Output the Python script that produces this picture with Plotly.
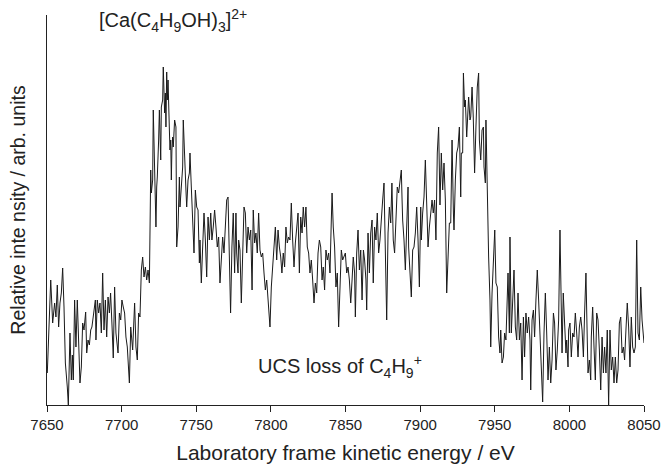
import plotly.graph_objects as go

# Laboratory-frame kinetic energy (eV) and relative intensity (arb. units)
energy_1 = [7650.2, 7652.5, 7653.8, 7655.1, 7656.0, 7656.9, 7657.8, 7658.7, 7659.6, 7660.5,
            7661.4, 7662.3, 7663.6, 7664.3, 7665.4, 7666.3, 7667.0, 7667.6, 7668.5, 7669.4,
            7670.3, 7671.2, 7672.1, 7673.0, 7673.9, 7674.8, 7675.9, 7676.6, 7677.5, 7678.4,
            7679.3, 7680.1, 7681.5, 7682.4, 7682.8, 7683.7, 7684.6, 7685.5, 7686.4, 7687.3,
            7688.2, 7689.1, 7690.0, 7690.9, 7691.8, 7692.6, 7693.5, 7694.4, 7695.3, 7696.2,
            7697.6, 7698.5, 7699.4, 7700.2, 7701.1, 7702.0, 7702.9, 7703.8, 7705.2, 7706.1,
            7707.4, 7708.7, 7709.6, 7710.5, 7711.4]
intensity_1 = [32, 125, 82, 102, 88, 120, 78, 102, 112, 137,
               98, 42, 18, 0, 72, 25, 50, 25, 105, 58,
               105, 72, 22, 38, 82, 75, 93, 52, 65, 60,
               75, 78, 92, 105, 65, 105, 92, 102, 72, 132,
               75, 105, 68, 108, 92, 112, 82, 47, 118, 72,
               52, 92, 85, 105, 98, 92, 68, 58, 22, 78,
               55, 102, 58, 45, 92]

energy_2 = [7712.3, 7713.2, 7714.1, 7715.0, 7715.9, 7716.8, 7717.7, 7718.6, 7719.5, 7719.9,
            7720.8, 7721.2, 7722.1, 7723.0, 7723.5, 7723.9, 7724.8, 7725.3, 7726.2, 7726.6,
            7727.5, 7727.9, 7728.8, 7729.3, 7729.7, 7730.2, 7730.6, 7731.1, 7732.0, 7732.4,
            7732.9, 7733.3, 7733.7, 7734.2, 7734.6, 7735.5, 7736.4, 7736.9, 7737.8, 7738.7,
            7739.1, 7740.0, 7740.9, 7741.3, 7742.2, 7743.1, 7743.6, 7744.5, 7745.4, 7745.8,
            7746.7, 7747.6, 7748.5, 7749.4, 7750.3, 7751.2, 7752.1, 7752.5, 7753.4, 7754.3,
            7755.2, 7756.1, 7757.0, 7757.9, 7758.8, 7759.7, 7760.5, 7761.4, 7762.3, 7763.2,
            7764.1, 7765.0, 7765.9, 7766.8, 7767.7, 7768.6, 7769.5, 7770.4, 7771.3, 7772.2,
            7772.6, 7773.0, 7773.9, 7774.8, 7775.7, 7776.6, 7777.1, 7778.0, 7778.4]
intensity_2 = [88, 135, 148, 128, 138, 125, 135, 122, 235, 212,
               225, 295, 218, 178, 218, 228, 265, 295, 245, 298,
               305, 338, 292, 312, 278, 333, 305, 325, 275, 255,
               265, 225, 255, 268, 258, 285, 278, 158, 178, 228,
               198, 222, 238, 285, 238, 215, 198, 225, 232, 252,
               218, 178, 152, 215, 198, 195, 142, 165, 122, 158,
               192, 165, 128, 188, 165, 192, 165, 178, 195, 178,
               158, 168, 122, 145, 168, 152, 178, 205, 208, 132,
               102, 92, 158, 192, 132, 192, 152, 132, 165]

energy_3 = [7779.3, 7780.2, 7781.1, 7782.0, 7782.9, 7783.8, 7784.7, 7785.6, 7786.5, 7787.4,
            7788.2, 7789.1, 7790.0, 7790.9, 7791.8, 7792.7, 7793.6, 7794.5, 7795.4, 7796.3,
            7797.2, 7798.1, 7799.0, 7799.4, 7800.3, 7801.2, 7802.1, 7803.0, 7803.9, 7804.8,
            7805.7, 7806.6, 7807.4, 7808.3, 7809.2, 7810.1, 7811.0, 7811.9, 7812.8, 7813.7,
            7814.6, 7815.5, 7816.4, 7817.3, 7818.2, 7819.1, 7820.0, 7820.9, 7821.7, 7822.6,
            7823.5, 7824.4, 7825.3, 7826.2, 7827.1, 7828.0, 7828.9, 7829.8, 7830.7, 7831.6,
            7832.5, 7833.4, 7834.3, 7835.1, 7836.0, 7836.9, 7837.8, 7838.7, 7839.6, 7840.5,
            7841.0, 7841.8, 7842.7, 7843.6, 7844.5, 7845.4]
intensity_3 = [155, 102, 158, 198, 192, 152, 178, 165, 175, 115,
               195, 162, 172, 152, 192, 155, 148, 152, 132, 115,
               125, 105, 95, 78, 118, 138, 168, 178, 145, 175,
               158, 148, 132, 152, 138, 178, 162, 168, 165, 202,
               165, 138, 162, 178, 192, 132, 188, 172, 198, 178,
               198, 158, 152, 132, 145, 125, 102, 122, 112, 152,
               165, 158, 125, 138, 115, 155, 145, 152, 132, 185,
               212, 178, 158, 118, 132, 78]

energy_4 = [7847.2, 7848.1, 7849.0, 7849.9, 7850.8, 7851.7, 7852.6, 7853.5, 7854.4, 7855.2,
            7856.1, 7856.6, 7857.5, 7858.4, 7859.3, 7860.2, 7861.1, 7862.0, 7862.8, 7863.7,
            7864.2, 7865.1, 7866.0, 7866.9, 7867.8, 7868.6, 7869.5, 7870.4, 7871.3, 7872.2,
            7873.1, 7874.0, 7874.9, 7875.8, 7876.2, 7877.1, 7877.6, 7878.5, 7879.4, 7880.3,
            7881.1, 7882.0, 7882.9, 7883.8, 7884.7, 7885.6, 7886.5, 7887.4, 7887.9, 7888.3,
            7889.2, 7890.1, 7891.0, 7891.9, 7892.3, 7893.2, 7894.1, 7895.0, 7895.9, 7896.8,
            7897.7, 7898.6, 7899.5, 7900.4, 7900.8, 7901.7, 7902.6, 7903.5, 7904.4, 7905.3,
            7906.2, 7907.1, 7908.0, 7908.8, 7909.7, 7910.6, 7911.5, 7912.4]
intensity_4 = [155, 145, 148, 152, 132, 138, 125, 102, 125, 148,
               132, 88, 152, 175, 135, 155, 105, 155, 145, 125,
               95, 172, 132, 172, 185, 122, 178, 165, 192, 152,
               165, 192, 205, 222, 185, 132, 85, 172, 198, 182,
               222, 165, 152, 185, 218, 212, 225, 235, 205, 185,
               165, 135, 178, 218, 158, 132, 108, 155, 158, 172,
               198, 165, 118, 198, 165, 192, 208, 245, 198, 158,
               178, 195, 205, 192, 205, 165, 252, 278]

energy_5 = [7913.3, 7914.2, 7915.1, 7916.0, 7916.9, 7917.8, 7918.7, 7919.6, 7920.5, 7921.4,
            7922.3, 7922.7, 7923.6, 7924.5, 7925.4, 7926.3, 7927.2, 7927.6, 7928.5, 7929.0,
            7929.8, 7930.3, 7931.2, 7932.1, 7932.5, 7933.4, 7933.9, 7934.8, 7935.6, 7936.5,
            7937.0, 7937.4, 7938.3, 7939.2, 7939.7, 7940.6, 7941.5, 7942.4, 7942.8, 7943.7,
            7944.1, 7945.0, 7945.9, 7946.8, 7947.3, 7948.2, 7949.1, 7950.0, 7950.8, 7951.7,
            7952.6, 7953.5, 7954.0, 7954.9, 7955.8, 7956.6, 7957.5, 7958.4, 7958.9, 7959.8,
            7960.2, 7961.1, 7962.0, 7962.9, 7963.8, 7964.7, 7965.6, 7966.5, 7967.4, 7968.3,
            7969.2, 7970.0, 7970.9, 7971.8, 7972.7, 7973.6, 7974.1, 7975.0, 7975.9, 7976.7,
            7977.6, 7978.5, 7979.4]
intensity_5 = [200, 252, 215, 242, 205, 112, 152, 182, 182, 265,
               192, 175, 225, 252, 258, 278, 208, 252, 252, 332,
               298, 305, 268, 288, 308, 285, 288, 318, 288, 232,
               272, 278, 318, 332, 265, 245, 275, 278, 238, 222,
               285, 205, 148, 105, 58, 112, 155, 175, 122, 118,
               68, 52, 75, 42, 48, 72, 65, 105, 132, 72,
               168, 72, 112, 135, 78, 65, 112, 65, 82, 25,
               88, 48, 92, 72, 88, 65, 15, 85, 95, 68,
               105, 135, 105]

energy_6 = [7980.3, 7981.2, 7982.1, 7983.0, 7983.9, 7984.8, 7985.7, 7986.6, 7987.5, 7988.4,
            7989.3, 7990.1, 7991.0, 7991.9, 7992.8, 7993.7, 7994.2, 7995.1, 7995.9, 7996.8,
            7997.7, 7998.2, 7999.1, 7999.5, 8000.4, 8001.3, 8002.2, 8003.1, 8004.0, 8004.9,
            8005.8, 8006.7, 8007.6, 8008.5, 8009.4, 8010.2, 8011.1, 8012.0, 8012.5, 8013.4,
            8014.3, 8014.7, 8015.6, 8016.5, 8017.4, 8018.3, 8019.2, 8020.1, 8021.0, 8021.9,
            8022.8, 8023.6, 8024.5, 8025.4, 8026.3, 8027.2, 8028.1, 8029.0, 8029.9, 8030.8,
            8031.7, 8032.6, 8033.5, 8034.4, 8035.3, 8036.2, 8037.0, 8037.9, 8038.8, 8039.7,
            8040.6, 8041.5, 8042.4, 8043.3, 8044.2, 8045.1, 8046.0, 8046.9, 8047.8, 8048.7,
            8050.0]
intensity_6 = [65, 25, 3, 72, 112, 72, 25, 58, 22, 45,
               92, 82, 35, 55, 85, 175, 132, 52, 112, 88,
               52, 65, 38, 75, 82, 48, 72, 68, 92, 72,
               48, 78, 88, 75, 48, 92, 132, 65, 32, 45,
               25, 68, 98, 58, 25, 92, 85, 55, 15, 68,
               32, 58, 32, 75, 0, 75, 35, 48, 22, 48,
               22, 35, 82, 88, 52, 58, 45, 75, 102, 78,
               38, 88, 58, 52, 58, 165, 72, 65, 118, 85,
               62]

energy = energy_1 + energy_2 + energy_3 + energy_4 + energy_5 + energy_6
intensity = intensity_1 + intensity_2 + intensity_3 + intensity_4 + intensity_5 + intensity_6

x_ticks = [7650, 7700, 7750, 7800, 7850, 7900, 7950, 8000, 8050]
x_title = "Laboratory frame kinetic energy / eV"
y_title = "Relative inte nsity / arb. units"
label_ion = "[Ca(C<sub>4</sub>H<sub>9</sub>OH)<sub>3</sub>]<sup>2+</sup>"
label_loss = "UCS loss of C<sub>4</sub>H<sub>9</sub><sup>+</sup>"

FONT = "Liberation Sans, Arial, sans-serif"
INK = "#222"

fig = go.Figure()
fig.add_trace(go.Scatter(x=energy, y=intensity, mode="lines",
                         line=dict(color="#1a1a1a", width=1), showlegend=False))

fig.update_layout(
    width=661, height=467,
    margin=dict(l=47, r=17, t=15, b=62, autoexpand=False),
    paper_bgcolor="white", plot_bgcolor="white",
    font=dict(family=FONT, color=INK, size=15),
    xaxis=dict(range=[7650, 8050], tickvals=x_ticks, ticktext=[str(v) for v in x_ticks],
               automargin=False,
               showgrid=False, zeroline=False, showline=True, linecolor=INK, linewidth=1.3,
               ticks="outside", ticklen=6, tickcolor=INK, tickwidth=1.3,
               tickfont=dict(size=15, family=FONT, color=INK),
               title=dict(text=x_title, font=dict(size=21, family=FONT, color=INK), standoff=13)),
    yaxis=dict(range=[0, 390], showticklabels=False, showgrid=False, zeroline=False,
               automargin=False,
               showline=True, linecolor=INK, linewidth=1.3, ticks="",
               title=dict(text=y_title, font=dict(size=19.5, family=FONT, color=INK), standoff=15)),
    annotations=[
        dict(text=label_ion, xref="paper", yref="paper", x=0.083, y=0.985,
             xanchor="left", yanchor="middle", showarrow=False,
             font=dict(size=20, family=FONT, color=INK)),
        dict(text=label_loss, xref="paper", yref="paper", x=0.35, y=0.1,
             xanchor="left", yanchor="middle", showarrow=False,
             font=dict(size=20, family=FONT, color=INK)),
    ],
)

fig.write_html("out.html")
